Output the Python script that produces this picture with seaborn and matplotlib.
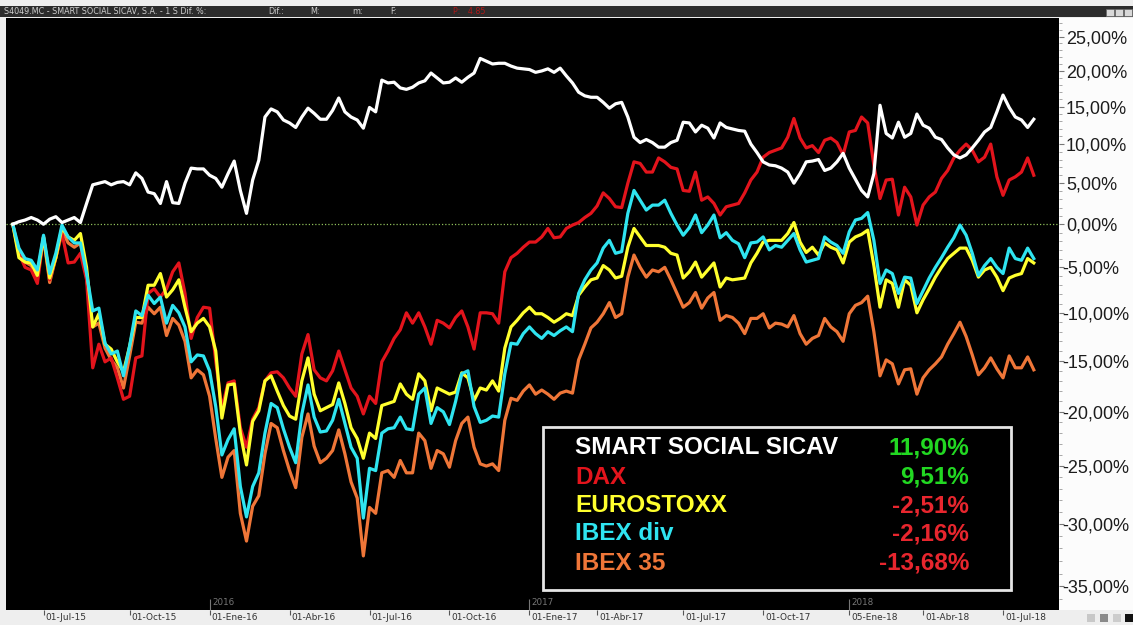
import numpy as np
import pandas as pd
import matplotlib
matplotlib.use("Agg")
import matplotlib.pyplot as plt
import matplotlib.transforms as mtransforms
from matplotlib.patches import Rectangle
from matplotlib.ticker import FixedLocator, FixedFormatter
import seaborn as sns

# ---------------- data (weekly bars, % change since start) ----------------
semanas = list(range(167))

smart = [0.0, 0.3, 0.5, 0.8, 0.5, 0.0, 0.6, 0.9, 0.2, 0.5,
         0.8, 0.2, 2.5, 4.8, 5.0, 5.2, 4.8, 5.1, 5.2, 4.8,
         6.3, 5.6, 3.9, 3.7, 2.5, 5.2, 2.6, 2.5, 5.0, 6.9,
         6.8, 6.8, 6.0, 5.6, 4.5, 6.2, 7.8, 4.1, 1.3, 5.4,
         7.9, 13.6, 14.7, 14.3, 13.2, 12.8, 12.2, 13.6, 14.8, 14.1,
         13.3, 13.3, 14.5, 16.2, 14.3, 13.6, 13.2, 12.1, 14.9, 14.3,
         18.7, 18.3, 18.4, 17.6, 17.4, 17.7, 18.3, 18.6, 19.7, 19.0,
         18.3, 18.4, 19.0, 18.4, 19.1, 19.7, 21.8, 21.4, 21.0, 21.1,
         21.1, 20.7, 20.4, 20.3, 20.2, 19.8, 20.0, 20.3, 19.8, 20.4,
         19.3, 18.3, 17.0, 16.5, 16.3, 16.3, 15.6, 14.8, 15.4, 15.6,
         13.6, 10.9, 10.2, 10.6, 10.2, 9.6, 9.6, 10.2, 10.5, 12.9,
         12.8, 11.6, 12.5, 12.1, 10.8, 12.8, 12.2, 12.0, 11.8, 11.7,
         10.0, 8.9, 7.7, 7.3, 7.2, 6.9, 6.4, 5.0, 6.2, 7.7,
         7.8, 8.0, 6.6, 6.9, 7.7, 8.8, 6.9, 5.5, 4.1, 3.3,
         6.2, 15.2, 11.4, 10.8, 12.9, 10.9, 11.4, 14.0, 12.5, 12.1,
         10.9, 10.6, 9.5, 8.6, 8.2, 8.6, 9.5, 10.5, 11.6, 12.2,
         14.3, 16.6, 14.9, 13.6, 13.2, 12.2, 13.3]

dax = [0.0, -3.4, -5.0, -5.3, -6.8, -1.5, -6.4, -3.9, -1.1, -4.5,
       -4.4, -3.4, -6.4, -15.7, -13.3, -15.1, -14.7, -16.7, -18.8, -18.5,
       -14.7, -14.5, -7.9, -7.4, -8.3, -7.4, -5.5, -4.5, -7.9, -12.7,
       -10.5, -9.4, -9.5, -15.0, -19.7, -17.2, -17.0, -21.5, -23.3, -20.7,
       -19.6, -17.0, -16.2, -16.1, -16.7, -17.7, -18.5, -14.3, -12.3, -15.9,
       -16.7, -17.0, -16.0, -14.0, -15.9, -17.7, -18.5, -20.2, -18.5, -19.2,
       -15.1, -14.0, -12.7, -11.8, -10.0, -11.1, -10.0, -11.5, -13.3, -10.8,
       -11.1, -11.6, -10.5, -9.8, -11.5, -13.8, -10.0, -10.0, -10.1, -11.1,
       -5.5, -3.9, -3.4, -2.7, -2.1, -2.1, -1.5, -0.5, -1.6, -1.5,
       -0.5, -0.1, 0.2, 0.8, 1.3, 2.2, 3.8, 3.1, 2.1, 2.0,
       5.0, 7.7, 7.5, 6.4, 6.4, 8.2, 7.7, 7.0, 6.8, 4.1,
       4.0, 6.4, 2.9, 3.3, 2.5, 1.1, 2.1, 2.3, 2.5, 3.8,
       5.4, 6.4, 8.3, 8.9, 9.2, 9.5, 10.9, 13.4, 10.8, 9.5,
       9.8, 8.9, 10.5, 10.8, 10.2, 8.6, 11.6, 11.8, 13.6, 12.8,
       7.3, 3.1, 5.4, 5.5, 1.1, 4.5, 3.3, -0.1, 2.3, 3.3,
       3.9, 5.6, 6.6, 8.2, 9.2, 10.0, 9.2, 7.7, 8.3, 10.0,
       5.8, 3.5, 5.4, 5.8, 6.4, 8.2, 6.0]

eurostoxx = [0.0, -3.9, -4.4, -4.5, -5.9, -1.5, -6.2, -3.9, -0.4, -1.5,
             -1.9, -1.1, -5.0, -11.5, -10.1, -13.3, -13.8, -15.1, -16.1, -13.5,
             -10.5, -10.5, -7.0, -7.0, -5.7, -8.3, -7.5, -6.4, -9.4, -12.0,
             -11.1, -10.6, -11.5, -14.0, -20.6, -17.4, -17.3, -22.0, -24.9, -20.9,
             -19.9, -17.0, -16.5, -18.0, -19.4, -20.4, -20.7, -17.0, -14.7, -18.3,
             -19.9, -19.6, -19.3, -17.2, -19.2, -21.5, -22.5, -24.3, -22.0, -22.5,
             -19.4, -19.2, -19.0, -17.3, -18.3, -18.8, -16.3, -17.0, -19.9, -17.7,
             -18.0, -18.3, -18.1, -16.2, -16.7, -18.9, -17.7, -17.9, -17.0, -18.0,
             -13.7, -11.5, -10.8, -10.0, -9.4, -10.1, -10.1, -10.5, -11.0, -10.6,
             -10.1, -10.3, -8.1, -7.2, -6.4, -6.2, -4.8, -5.3, -6.2, -6.0,
             -2.7, -0.5, -1.5, -2.5, -2.5, -2.5, -2.7, -3.4, -3.6, -6.2,
             -5.5, -4.4, -6.1, -5.3, -4.5, -7.2, -6.2, -6.4, -6.3, -6.2,
             -4.5, -3.4, -2.1, -1.9, -1.9, -1.9, -1.1, 0.2, -2.1, -3.3,
             -2.7, -3.6, -2.2, -2.7, -3.0, -4.5, -2.1, -1.5, -1.2, -0.7,
             -4.8, -9.4, -6.4, -6.8, -9.4, -6.4, -7.0, -10.0, -8.6, -7.4,
             -6.1, -5.0, -4.0, -3.4, -2.8, -2.8, -4.2, -6.1, -5.3, -5.0,
             -6.1, -7.6, -6.2, -5.9, -5.7, -4.0, -4.5]

ibex_div = [0.0, -2.8, -4.0, -4.2, -5.3, -1.3, -5.7, -3.4, -0.1, -1.5,
            -2.2, -2.2, -5.7, -9.8, -9.5, -13.2, -14.3, -14.0, -16.5, -13.5,
            -9.8, -10.3, -8.1, -9.0, -8.3, -11.1, -9.2, -10.0, -11.5, -15.1,
            -14.4, -14.5, -16.0, -19.5, -24.0, -22.6, -21.6, -26.8, -29.4, -26.8,
            -25.6, -22.0, -19.2, -19.6, -21.6, -23.3, -24.7, -20.2, -17.4, -20.5,
            -21.9, -21.8, -20.8, -18.8, -21.1, -23.3, -24.3, -29.5, -25.2, -25.4,
            -22.0, -21.6, -21.5, -20.5, -21.6, -21.7, -18.3, -17.7, -21.1, -19.6,
            -20.0, -21.2, -19.0, -16.3, -16.0, -19.5, -21.0, -20.8, -20.4, -20.5,
            -16.3, -13.2, -13.3, -12.2, -11.5, -12.2, -12.7, -12.0, -12.4, -11.9,
            -11.5, -12.0, -7.9, -6.4, -5.3, -4.5, -2.8, -1.9, -3.4, -3.2,
            1.3, 4.1, 2.9, 1.7, 2.3, 2.3, 2.9, 1.3, -0.1, -1.3,
            -0.4, 1.1, -1.0, -0.1, 1.1, -1.6, -1.0, -1.9, -2.3, -3.9,
            -2.2, -2.1, -1.5, -3.0, -2.5, -2.7, -1.9, -1.1, -3.0, -4.4,
            -4.2, -4.0, -1.5, -2.1, -2.5, -3.4, -0.9, 0.5, 0.7, 1.4,
            -1.9, -6.8, -5.3, -5.7, -7.9, -6.1, -6.2, -9.0, -7.6, -6.2,
            -5.0, -3.9, -2.7, -1.6, -0.1, -1.3, -3.4, -5.9, -4.8, -4.0,
            -5.0, -5.7, -2.8, -4.0, -4.2, -2.8, -4.0]

ibex35 = [0.0, -3.4, -4.4, -4.8, -6.2, -1.5, -6.7, -3.9, -0.7, -2.2,
          -2.7, -2.2, -6.1, -11.5, -11.1, -13.7, -14.9, -15.7, -17.7, -14.5,
          -11.0, -11.1, -9.4, -10.1, -9.4, -12.4, -10.6, -11.3, -13.0, -16.7,
          -15.9, -16.4, -18.5, -22.5, -26.0, -24.2, -23.6, -29.1, -31.4, -28.5,
          -27.6, -23.9, -21.1, -21.5, -23.6, -25.4, -26.9, -22.4, -20.2, -23.2,
          -24.7, -24.3, -23.6, -21.7, -23.9, -26.4, -27.8, -32.6, -28.6, -29.1,
          -25.6, -25.4, -26.0, -24.5, -25.6, -25.6, -22.0, -22.7, -25.2, -23.6,
          -23.9, -25.1, -22.7, -21.1, -20.5, -23.3, -24.8, -25.0, -24.8, -25.4,
          -20.8, -18.7, -18.9, -18.0, -17.4, -18.3, -17.9, -18.3, -18.8, -18.2,
          -18.0, -18.2, -14.9, -13.3, -11.6, -11.0, -10.1, -8.9, -10.5, -10.1,
          -6.1, -3.6, -5.0, -6.1, -5.3, -5.5, -5.0, -6.4, -7.9, -9.4,
          -8.9, -7.8, -9.5, -8.4, -7.8, -10.8, -10.3, -10.5, -11.1, -12.2,
          -10.6, -10.6, -10.1, -11.6, -11.1, -11.2, -11.5, -10.3, -12.2, -13.3,
          -12.7, -12.4, -10.6, -11.5, -12.0, -13.0, -10.1, -9.2, -8.9, -8.2,
          -12.0, -16.5, -14.9, -15.3, -17.3, -15.9, -15.8, -18.3, -16.7, -15.9,
          -15.3, -14.6, -13.3, -12.2, -11.0, -12.5, -14.4, -16.4, -15.7, -14.7,
          -15.8, -16.7, -14.5, -15.7, -15.7, -14.6, -15.9]

series_names = ["IBEX 35", "DAX", "EUROSTOXX", "IBEX div", "SMART SOCIAL SICAV"]
series_values = [ibex35, dax, eurostoxx, ibex_div, smart]
series_colors = {"SMART SOCIAL SICAV": "#ffffff", "DAX": "#e3141c",
                 "EUROSTOXX": "#ffff2e", "IBEX div": "#2fe4f0",
                 "IBEX 35": "#ef7638"}

x_tick_pos = [5, 19, 32, 45, 58, 71, 84, 95, 109, 122, 136, 148, 161]
x_tick_labels = ["01-Jul-15", "01-Oct-15", "01-Ene-16", "01-Abr-16", "01-Jul-16",
                 "01-Oct-16", "01-Ene-17", "01-Abr-17", "01-Jul-17", "01-Oct-17",
                 "05-Ene-18", "01-Abr-18", "01-Jul-18"]
year_pos = [32, 84, 136]
year_labels = ["2016", "2017", "2018"]

y_ticks = [25, 20, 15, 10, 5, 0, -5, -10, -15, -20, -25, -30, -35]
y_minor = list(range(-36, 28))

legend_names = ["SMART SOCIAL SICAV", "DAX", "EUROSTOXX", "IBEX div", "IBEX 35"]
legend_values = ["11,90%", "9,51%", "-2,51%", "-2,16%", "-13,68%"]
legend_value_colors = ["#22d822", "#22d822", "#e8262e", "#e8262e", "#e8262e"]
legend_name_colors = ["#ffffff", "#e3141c", "#ffff2e", "#2fe4f0", "#ef7638"]

# ---------------- figure ----------------
plt.rcParams["font.family"] = ["Liberation Sans", "DejaVu Sans"]
W, H = 1133, 625
def fx(x):
    return x / W
def fy(y):
    return 1 - y / H

fig = plt.figure(figsize=(W / 100, H / 100), dpi=100, facecolor="#eeeeee")
ax = fig.add_axes([fx(6), fy(610), (1059 - 6) / W, (610 - 18) / H])
ax.set_facecolor("black")

df = pd.DataFrame({
    "semana": semanas * len(series_names),
    "valor": [v for vals in series_values for v in vals],
    "serie": [n for n, vals in zip(series_names, series_values) for _ in vals],
})

sns.lineplot(data=df, x="semana", y="valor", hue="serie", hue_order=series_names,
             palette=series_colors, linewidth=2.3, legend=False, ax=ax,
             estimator=None, sort=False)

def fwd(v):
    return np.log10(1 + np.asarray(v, dtype=float) / 100.0)
def inv(v):
    return (10 ** np.asarray(v, dtype=float) - 1) * 100.0

ax.set_yscale("function", functions=(fwd, inv))
ax.set_ylim(-36.8, 27.8)
ax.set_xlim(-1.1, 170.1)

ax.axhline(0, color="#8fbf5a", lw=0.9, ls=(0, (1, 1.6)), zorder=1.5)

# y axis on the right
ax.yaxis.tick_right()
ax.yaxis.set_major_locator(FixedLocator(y_ticks))
ax.yaxis.set_major_formatter(FixedFormatter([f"{v:.2f}".replace(".", ",") + "%" for v in y_ticks]))
ax.yaxis.set_minor_locator(FixedLocator(y_minor))
ax.tick_params(axis="y", which="major", length=3.5, width=0.8, color="#777777",
               pad=1.5, labelsize=13, labelcolor="#1c1c1c")
ax.tick_params(axis="y", which="minor", length=2, width=0.6, color="#999999")
neg_shift = mtransforms.ScaledTranslation(-4 / 100, 0, fig.dpi_scale_trans)
for lab in ax.get_yticklabels():
    if lab.get_text().startswith("-"):
        lab.set_transform(lab.get_transform() + neg_shift)

# x axis
ax.set_xticks(x_tick_pos)
ax.set_xticklabels(x_tick_labels)
ax.tick_params(axis="x", which="major", length=3.8, width=0.8, color="#555555",
               pad=-1.6, labelsize=6.5, labelcolor="#333333")
x_shift = mtransforms.ScaledTranslation(2 / 100, 0, fig.dpi_scale_trans)
for lab in ax.get_xticklabels():
    lab.set_horizontalalignment("left")
    lab.set_fontfamily("DejaVu Sans")
    lab.set_transform(lab.get_transform() + x_shift)
ax.set_xlabel("")
ax.set_ylabel("")
for s in ax.spines.values():
    s.set_visible(False)

# year markers
xt = ax.get_xaxis_transform()
ax.vlines(year_pos, 0, 0.019, transform=xt, color="#777777", lw=0.8)
for p, t in zip(year_pos, year_labels):
    ax.text(p + 0.4, 0.013, t, transform=xt, fontsize=6.3, color="#777777",
            ha="left", va="center", family="DejaVu Sans")

# right panel background
fig.patches.append(Rectangle((fx(1059), fy(610)), (W - 1059) / W, (610 - 18) / H,
                             transform=fig.transFigure, facecolor="#fcfcfc",
                             edgecolor="none", zorder=-1))
# header bar
fig.patches.append(Rectangle((0, fy(17)), 1, 11 / H, transform=fig.transFigure,
                             facecolor="#2c2c2c", edgecolor="none", zorder=1))
hdr = [(4, "S4049.MC - SMART SOCIAL SICAV, S.A. - 1 S Dif. %:", "#cfcfcf"),
       (268, "Dif.:", "#cfcfcf"), (310, "M:", "#cfcfcf"), (352, "m:", "#cfcfcf"),
       (390, "F:", "#cfcfcf"), (453, "P:   4.85", "#b01818")]
for xp, t, c in hdr:
    fig.text(fx(xp), fy(11.5), t, fontsize=5.8, color=c, va="center", ha="left",
             family="DejaVu Sans", zorder=4)
for xp, c in [(1106, "#d8d8d8"), (1115, "#d8d8d8"), (1124, "#d8d8d8")]:
    fig.patches.append(Rectangle((fx(xp), fy(16)), 8 / W, 7 / H, transform=fig.transFigure,
                                 facecolor=c, edgecolor="#666666", lw=0.5, zorder=2))
# bottom-right icons
for xp, c in [(1087, "#c8c8c8"), (1100, "#8a8a8a"), (1113, "#cccccc"), (1125, "#111111")]:
    fig.patches.append(Rectangle((fx(xp), fy(622)), 8 / W, 8 / H, transform=fig.transFigure,
                                 facecolor=c, edgecolor="none", zorder=2))

# legend box
fig.patches.append(Rectangle((fx(543), fy(590)), (1011 - 543) / W, (590 - 427) / H,
                             transform=fig.transFigure, facecolor="black",
                             edgecolor="#e6e6e6", lw=2, zorder=2))
rows_y = [448, 477, 506, 534, 563]
for yy, n, nc, v, vc in zip(rows_y, legend_names, legend_name_colors,
                            legend_values, legend_value_colors):
    fig.text(fx(575), fy(yy), n, color=nc, fontsize=17.5, fontweight="bold",
             ha="left", va="center", zorder=5)
    fig.text(fx(969), fy(yy), v, color=vc, fontsize=17.5, fontweight="bold",
             ha="right", va="center", zorder=5)

fig.savefig("out.png", dpi=100, facecolor=fig.get_facecolor())
